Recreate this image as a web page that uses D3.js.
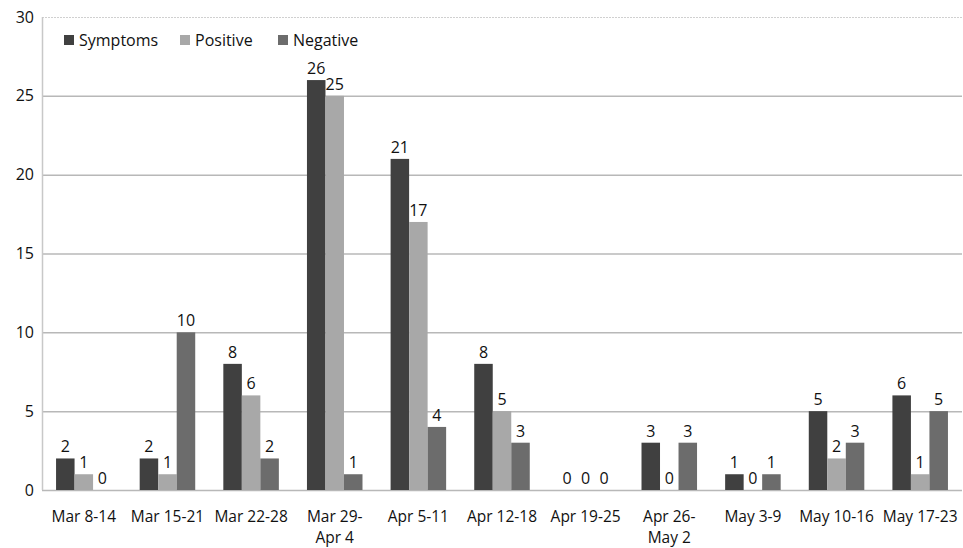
<!DOCTYPE html>
<html><head><meta charset="utf-8">
<script src="https://cdn.jsdelivr.net/npm/d3@7"></script>
<style>body{margin:0;background:#fff}svg{display:block}text{font-family:"Open Sans",sans-serif;fill:#111}</style>
</head><body><svg id="c" width="963" height="548"></svg>
<script>
const categories = [["Mar 8-14"],["Mar 15-21"],["Mar 22-28"],["Mar 29-","Apr 4"],["Apr 5-11"],["Apr 12-18"],["Apr 19-25"],["Apr 26-","May 2"],["May 3-9"],["May 10-16"],["May 17-23"]];
const seriesNames = ["Symptoms","Positive","Negative"];
const symptoms = [2,2,8,26,21,8,0,3,1,5,6];
const positive = [1,1,6,25,17,5,0,0,0,2,1];
const negative = [0,10,2,1,4,3,0,3,1,3,5];
const yTicks = [0,5,10,15,20,25,30];
const colors = ["#404040","#a8a8a8","#6c6c6c"];
const series = [symptoms, positive, negative];

const svg = d3.select("#c");
const m = {l:42, r:962, t:17, b:490};
const x0 = d3.scaleBand().domain(d3.range(categories.length)).range([m.l, m.r]).paddingInner(0.336).paddingOuter(0.168);
const x1 = d3.scaleBand().domain(d3.range(3)).range([0, x0.bandwidth()]);
const y = d3.scaleLinear().domain([0,30]).range([m.b, m.t]);

// gridlines
svg.append("g").selectAll("line").data(yTicks).join("line")
  .attr("x1", m.l).attr("x2", m.r).attr("y1", d=>y(d)+0.5).attr("y2", d=>y(d)+0.5)
  .attr("stroke", d=> d===30 ? "#d0d0d0" : "#b8b8b8").attr("stroke-width", d=>d===30?1:1.5)
  .attr("stroke-dasharray", d=> d===30 ? "2,1" : null);
svg.append("line").attr("x1", m.l+0.5).attr("x2", m.l+0.5).attr("y1", m.t).attr("y2", m.b)
  .attr("stroke", "#c8c8c8").attr("stroke-width",1.5);

// y tick labels
const yAxis = d3.axisLeft(y).tickValues(yTicks).tickSize(0).tickPadding(8);
const ga = svg.append("g").attr("transform", `translate(${m.l},0)`).call(yAxis);
ga.select(".domain").remove();
ga.selectAll("text").style("font-family","'Open Sans',sans-serif").style("font-size","16px").attr("fill","#111");

// bars
series.forEach((vals, si) => {
  const g = svg.append("g");
  g.selectAll("rect").data(vals).join("rect")
    .attr("x", (d,i)=> x0(i)+x1(si)).attr("width", x1.bandwidth())
    .attr("y", d=>y(d)).attr("height", d=> y(0)-y(d)).attr("fill", colors[si]);
  g.selectAll("text").data(vals).join("text")
    .attr("x", (d,i)=> x0(i)+x1(si)+x1.bandwidth()/2).attr("y", d=>y(d)-6)
    .attr("text-anchor","middle").style("font-size","16px").text(d=>d);
});

// x labels (one text per line)
const gx = svg.append("g");
categories.forEach((lines, i) => {
  lines.forEach((ln, k) => gx.append("text")
    .attr("x", x0(i)+x0.bandwidth()/2).attr("y", 522 + k*21)
    .attr("text-anchor","middle").style("font-size","15.5px").text(ln));
});

// legend
const lx = [64, 180, 278];
const lg = svg.append("g");
seriesNames.forEach((n, i) => {
  lg.append("rect").attr("x", lx[i]).attr("y", 35).attr("width", 10).attr("height", 10).attr("fill", colors[i]);
  lg.append("text").attr("x", lx[i]+15).attr("y", 46).style("font-size","16px").text(n);
});
</script></body></html>
